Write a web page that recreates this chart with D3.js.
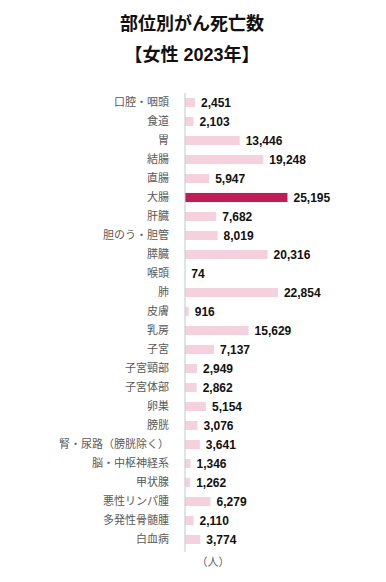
<!DOCTYPE html>
<html>
<head>
<meta charset="utf-8">
<script src="https://cdn.jsdelivr.net/npm/d3@7"></script>
<style>
  body { margin: 0; background: #fff; }
  .title { font-family: "Liberation Sans", "Noto Sans CJK JP", sans-serif; font-weight: 700; font-size: 18px; fill: #111; }
  .cat { font-family: "Noto Sans CJK JP", sans-serif; font-size: 11px; fill: #595959; }
  .val { font-family: "Liberation Sans", "Noto Sans CJK JP", sans-serif; font-weight: 700; font-size: 12px; fill: #111; }
  .unit { font-family: "Noto Sans CJK JP", sans-serif; font-size: 11px; fill: #595959; }
</style>
</head>
<body>
<div id="chart"></div>
<script>
// Chart data
const categories = ["口腔・咽頭", "食道", "胃", "結腸", "直腸", "大腸", "肝臓", "胆のう・胆管", "膵臓", "喉頭", "肺", "皮膚", "乳房", "子宮", "子宮頸部", "子宮体部", "卵巣", "膀胱", "腎・尿路（膀胱除く）", "脳・中枢神経系", "甲状腺", "悪性リンパ腫", "多発性骨髄腫", "白血病"];
const deaths = [2451, 2103, 13446, 19248, 5947, 25195, 7682, 8019, 20316, 74, 22854, 916, 15629, 7137, 2949, 2862, 5154, 3076, 3641, 1346, 1262, 6279, 2110, 3774];
const highlight = "大腸";
const titleLines = ["部位別がん死亡数", "【女性 2023年】"];
const unitLabel = "（人）";

const width = 386, height = 582;
const margin = { top: 93, left: 185, bottom: 34 };

const svg = d3.select("#chart").append("svg")
    .attr("width", width)
    .attr("height", height);

// Title
svg.selectAll(".title")
    .data(titleLines)
    .enter().append("text")
    .attr("class", "title")
    .attr("x", 192)
    .attr("y", (d, i) => 30 + i * 31)
    .attr("text-anchor", "middle")
    .text(d => d);

const xScale = d3.scaleLinear().domain([0, 30000]).range([0, 122]);
const yScale = d3.scaleBand()
    .domain(categories)
    .range([margin.top, margin.top + 19 * categories.length])
    .paddingInner(0.52)
    .paddingOuter(0.26);

const g = svg.append("g").attr("transform", "translate(" + margin.left + ",0)");

g.selectAll("rect")
    .data(categories)
    .enter()
    .append("rect")
    .attr("x", 0)
    .attr("y", d => yScale(d))
    .attr("width", (d, i) => xScale(deaths[i]))
    .attr("height", yScale.bandwidth())
    .attr("fill", d => d === highlight ? "#c01c55" : "#f4d1dd");

// Axis line
g.append("line")
    .attr("x1", 0).attr("x2", 0)
    .attr("y1", margin.top).attr("y2", margin.top + 19 * categories.length + 3)
    .attr("stroke", "#b8c9e4")
    .attr("stroke-width", 1);

// Category labels
svg.selectAll(".cat")
    .data(categories)
    .enter().append("text")
    .attr("class", "cat")
    .attr("x", margin.left - 16)
    .attr("y", d => yScale(d) + yScale.bandwidth() / 2)
    .attr("dy", "0.36em")
    .attr("text-anchor", "end")
    .text(d => d);

// Value labels
g.selectAll(".val")
    .data(categories)
    .enter().append("text")
    .attr("class", "val")
    .attr("x", (d, i) => xScale(deaths[i]) + 6)
    .attr("y", d => yScale(d) + yScale.bandwidth() / 2)
    .attr("dy", "0.36em")
    .text((d, i) => d3.format(",")(deaths[i]));

svg.append("text")
    .attr("class", "unit")
    .attr("x", 213)
    .attr("y", 562)
    .attr("dy", "0.36em")
    .attr("text-anchor", "middle")
    .text(unitLabel);
</script>
</body>
</html>
